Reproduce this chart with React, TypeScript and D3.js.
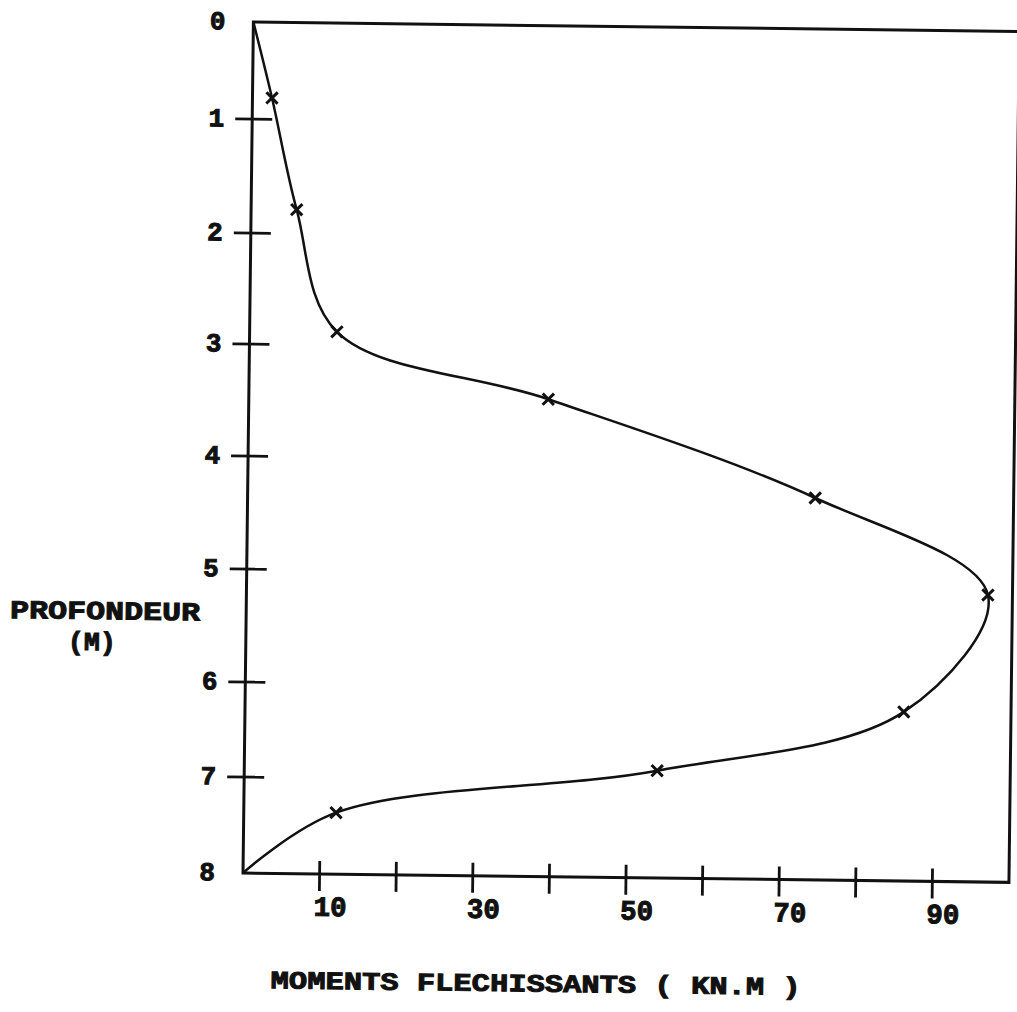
import React from "react";
import * as d3 from "d3";

// ---- data ----
const depthTicks = [0, 1, 2, 3, 4, 5, 6, 7, 8];
const depthTickLabels = ["0", "1", "2", "3", "4", "5", "6", "7", "8"];
const momentTicks = [10, 20, 30, 40, 50, 60, 70, 80, 90];
const momentTickLabels = [10, 30, 50, 70, 90];
const momentDomain = [0, 100];
const markerMoments = [2.55, 5.95, 11.4, 39.1, 74.1, 96.8, 86.0, 53.9, 12.05];
const markerDepths = [0.78, 1.79, 2.88, 3.46, 4.31, 5.15, 6.23, 6.88, 7.36];
const curveMoments = [0, ...markerMoments, 0];
const curveDepths = [0, ...markerDepths, 8];
const yTitleLines = ["PROFONDEUR", "(M)"];
const xTitle = "MOMENTS FLECHISSANTS ( KN.M )";

// ---- layout ----
const W = 1017;
const H = 1012;
// graduation of the hand-drawn depth axis (pixel stop for each depth tick)
const depthPixelStops = [22, 119, 233, 344, 456, 569, 682, 777, 873];
const xRange = [243, 1009];
const tilt = 0.7; // scan rotation, degrees
const MONO = "'Liberation Mono', 'Courier New', monospace";
const INK = "#111";

export default function App() {
  const x = d3.scaleLinear().domain(momentDomain).range(xRange);
  const y = d3.scaleLinear().domain(depthTicks).range(depthPixelStops);

  const curvePts: [number, number][] = curveMoments.map((m, i) => [m, curveDepths[i]]);
  const markerPts: [number, number][] = markerMoments.map((m, i) => [m, markerDepths[i]]);

  const line = d3
    .line<[number, number]>()
    .x((d) => x(d[0]))
    .y((d) => y(d[1]))
    .curve(d3.curveCatmullRom.alpha(0.5));

  const symbol = d3.symbol().type(d3.symbolX).size(85)();

  const x0 = x(momentDomain[0]);
  const x1 = x(momentDomain[1]);
  const y0 = y(depthTicks[0]);
  const y1 = y(depthTicks[depthTicks.length - 1]);
  const pivot = `${x0}, ${y1}`;

  const textStyle = {
    fontFamily: MONO,
    fontWeight: "bold" as const,
    fill: INK,
    stroke: INK,
    strokeWidth: 1,
    whiteSpace: "pre" as const,
  };

  return (
    <svg
      width={W}
      height={H}
      viewBox={`0 0 ${W} ${H}`}
      style={{ position: "absolute", left: 0, top: 0, background: "#fff" }}
    >
      <rect x={0} y={0} width={W} height={H} fill="#fff" />
      <g transform={`rotate(${tilt}, ${pivot})`}>
        {/* frame */}
        <path
          d={`M${x0},${y0}H${x1}V${y1}H${x0}Z`}
          fill="none"
          stroke={INK}
          strokeWidth={3}
        />
        {/* depth ticks */}
        {depthTicks.slice(1, -1).map((t) => (
          <line
            key={"yt" + t}
            x1={x0 - 17}
            x2={x0 + 20}
            y1={y(t)}
            y2={y(t)}
            stroke={INK}
            strokeWidth={2.8}
          />
        ))}
        {depthTicks.map((t, i) => (
          <text
            key={"yl" + t}
            x={x0 - 28}
            y={y(t)}
            dy="0.3em"
            textAnchor="end"
            fontSize={26}
            style={textStyle}
          >
            {depthTickLabels[i]}
          </text>
        ))}
        {/* moment ticks */}
        {momentTicks.map((t) => (
          <line
            key={"xt" + t}
            x1={x(t)}
            x2={x(t)}
            y1={y1 - 13}
            y2={y1 + 17}
            stroke={INK}
            strokeWidth={2.8}
          />
        ))}
        {momentTickLabels.map((t) => (
          <text
            key={"xl" + t}
            x={x(t) + 11}
            y={915}
            textAnchor="middle"
            fontSize={28}
            textLength={33}
            lengthAdjust="spacingAndGlyphs"
            style={textStyle}
          >
            {t}
          </text>
        ))}
        {/* curve */}
        <path d={line(curvePts) || ""} fill="none" stroke={INK} strokeWidth={2.5} />
        {markerPts.map((d, i) => (
          <path
            key={"m" + i}
            d={symbol || ""}
            transform={`translate(${x(d[0])},${y(d[1])})`}
            fill="none"
            stroke={INK}
            strokeWidth={3}
          />
        ))}
        {/* titles */}
        <text
          x={102}
          y={621}
          textAnchor="middle"
          fontSize={26}
          textLength={190}
          lengthAdjust="spacingAndGlyphs"
          style={textStyle}
        >
          {yTitleLines[0]}
        </text>
        <text
          x={89}
          y={652}
          textAnchor="middle"
          fontSize={26}
          textLength={48}
          lengthAdjust="spacingAndGlyphs"
          style={textStyle}
        >
          {yTitleLines[1]}
        </text>
        <text
          x={537}
          y={988}
          textAnchor="middle"
          fontSize={25}
          textLength={530}
          lengthAdjust="spacingAndGlyphs"
          style={textStyle}
        >
          {xTitle}
        </text>
      </g>
    </svg>
  );
}
